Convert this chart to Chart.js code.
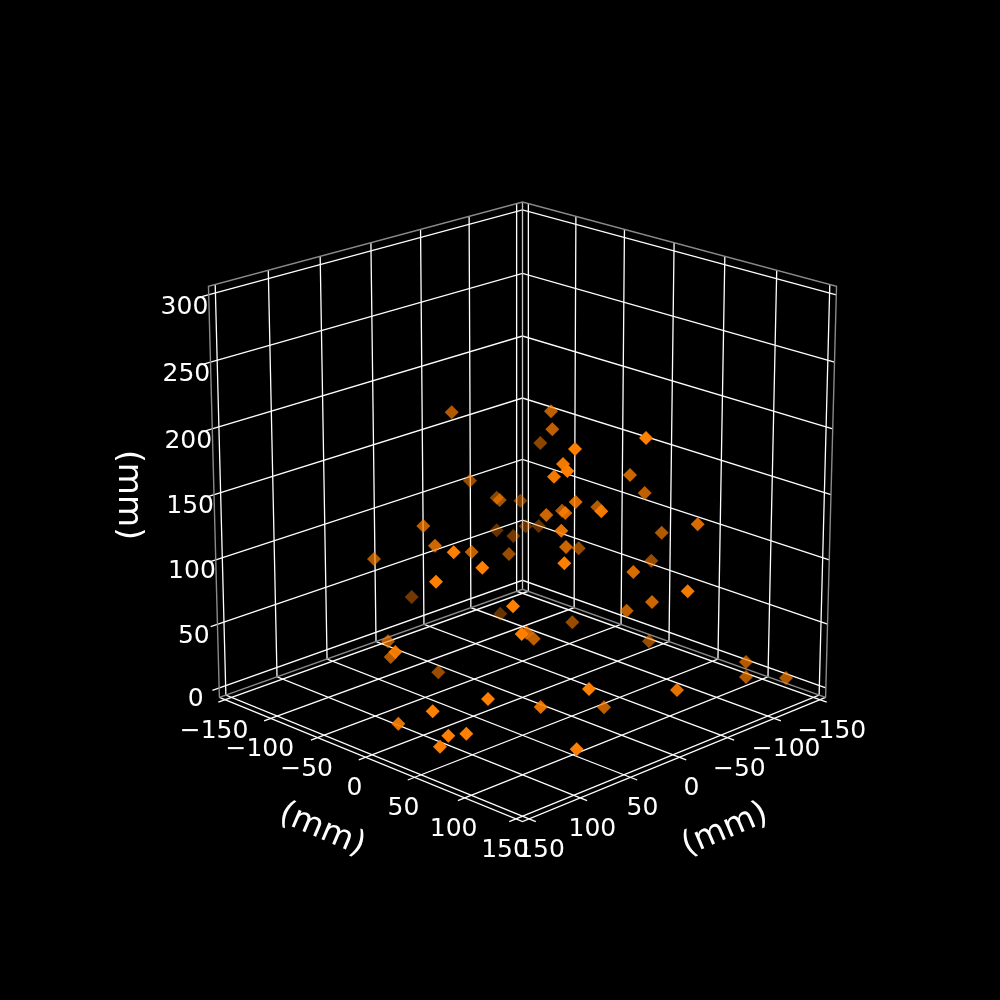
<!DOCTYPE html>
<html>
<head>
<meta charset="utf-8">
<title>3D scatter</title>
<script src="https://cdn.jsdelivr.net/npm/chart.js@4"></script>
<style>
    html, body { margin: 0; padding: 0; background: #000; }
    canvas { display: block; }
</style>
</head>
<body>
<canvas id="scatter3d" width="1000" height="1000"></canvas>
<script>
// Tick values in mm
const xyTicks = [-150, -100, -50, 0, 50, 100, 150];
const zTicks = [0, 50, 100, 150, 200, 250, 300];

// Markers (plane position and depth shade, 0 far .. 1 near)
const planeX = [451.7, 470, 496.7, 499.7, 520.3, 423.3, 546.3, 496.7, 525.7, 538.7, 513.3, 435, 453.7, 471.7, 509, 374, 482.3, 436, 411.7, 513, 500.3,
    551, 552.3, 540.3, 575, 646, 563, 567.3, 554, 630, 644.7, 575.7, 597.3, 601.3, 562, 565.3, 697.7, 561.3, 661.7, 566, 578.7, 651.3, 564.3, 633.3, 687.7, 652, 626.7, 572.3, 649, 521.7, 526.7, 533.7,
    388, 395.3, 390.7, 438.3, 488, 589, 540.7, 604, 432.7, 398.3, 466.3, 448.3, 440, 576.7, 677, 746, 746, 786];
const planeY = [412.3, 480.7, 497.7, 500, 500.7, 526, 515, 530.3, 526.3, 526, 536, 545.7, 552.3, 552, 554, 559, 567.7, 581.7, 597, 606.3, 613.7,
    411.3, 429.3, 443, 449, 438, 464, 471, 476.7, 475, 493, 502, 507, 511.3, 510.7, 513, 524.3, 530.7, 532.7, 547, 548.3, 560.7, 563.3, 572, 591.3, 602, 610.7, 622.3, 641.3, 634, 632.7, 638.7,
    641.3, 652, 657, 672.3, 699, 689, 707, 707.3, 711.3, 723.7, 733.7, 735.7, 746.7, 749.3, 690, 662, 677, 678];
const depthShade = [0.7, 0.6, 0.55, 0.65, 0.5, 0.75, 0.8, 0.4, 0.4, 0.4, 0.45, 0.8, 1, 0.75, 0.6, 0.7, 1, 1, 0.45, 1, 0.4,
    0.75, 0.75, 0.55, 1, 1, 0.95, 1, 0.95, 0.8, 0.75, 0.85, 0.7, 0.95, 0.7, 0.85, 0.85, 0.9, 0.7, 0.8, 0.6, 0.6, 1, 0.85, 0.95, 0.8, 0.75, 0.6, 0.6, 1, 0.8, 0.75,
    0.7, 0.95, 0.7, 0.6, 1, 1, 0.9, 0.75, 1, 0.9, 1, 1, 1, 1, 0.9, 0.7, 0.7, 0.7];

// View setup, same maths as a perspective 3D axes
const ELEV = 19.6 * Math.PI / 180;
const AZIM = 45 * Math.PI / 180;
const DIST = 10;
const HALF_BOX = 0.528;
const PLANE_SCALE = 4131;
const CENTER_X = 522.5;
const CENTER_Y = 495.5;
const XY_LIM = 156.25;
const Z_MIN = -7.5;
const Z_MAX = 306.25;

function project(x, y, z) {
    const px = x / XY_LIM * HALF_BOX;
    const py = y / XY_LIM * HALF_BOX;
    const pz = ((z - Z_MIN) / (Z_MAX - Z_MIN) * 2 - 1) * HALF_BOX;
    const along = px * Math.cos(AZIM) + py * Math.sin(AZIM);
    const u = -px * Math.sin(AZIM) + py * Math.cos(AZIM);
    const v = -along * Math.sin(ELEV) + pz * Math.cos(ELEV);
    const w = along * Math.cos(ELEV) + pz * Math.sin(ELEV);
    const d = DIST - w;
    return { x: CENTER_X + PLANE_SCALE * u / d, y: CENTER_Y - PLANE_SCALE * v / d };
}

function lineSet(points, color, width) {
    return {
        type: 'scatter',
        data: points,
        showLine: true,
        borderColor: color,
        borderWidth: width,
        pointRadius: 0,
        clip: false,
        order: 2
    };
}

const datasets = [];
const L = XY_LIM;
const TICK_OUT = 6.5;
const GRID = '#ffffff';
const EDGE = '#8a8a8a';

// Pane outlines
datasets.push(lineSet([project(L, -L, Z_MIN), project(L, -L, Z_MAX), project(-L, -L, Z_MAX), project(-L, L, Z_MAX), project(-L, L, Z_MIN)], EDGE, 1.4));
datasets.push(lineSet([project(L, -L, Z_MIN), project(-L, -L, Z_MIN), project(-L, L, Z_MIN)], EDGE, 1.4));
datasets.push(lineSet([project(-L, -L, Z_MIN), project(-L, -L, Z_MAX)], '#c8c8c8', 1.3));

// Axis lines along the front of the floor
datasets.push(lineSet([project(L, -L, Z_MIN), project(L, L, Z_MIN), project(-L, L, Z_MIN)], GRID, 1.3));

// Grid lines, each with its tick stub past the floor edge
xyTicks.forEach(t => {
    datasets.push(lineSet([project(t, L + TICK_OUT, Z_MIN), project(t, -L, Z_MIN), project(t, -L, Z_MAX)], GRID, 1.3));
    datasets.push(lineSet([project(L + TICK_OUT, t, Z_MIN), project(-L, t, Z_MIN), project(-L, t, Z_MAX)], GRID, 1.3));
});
zTicks.forEach(t => {
    datasets.push(lineSet([project(L + TICK_OUT, -L, t), project(-L, -L, t), project(-L, L, t)], GRID, 1.3));
});

// Markers
datasets.push({
    type: 'scatter',
    data: planeX.map((x, i) => ({ x: x, y: planeY[i] })),
    pointStyle: 'rectRot',
    pointRadius: 7,
    pointBorderWidth: 0,
    pointBackgroundColor: depthShade.map(s => `rgba(255, 127, 0, ${s})`),
    clip: false,
    order: 1
});

// Tick labels and axis titles as canvas text
const tickLabels = {
    id: 'tickLabels',
    afterDraw(chart) {
        const { ctx, scales } = chart;
        const put = (text, px, py, size, angle) => {
            ctx.save();
            ctx.translate(scales.x.getPixelForValue(px), scales.y.getPixelForValue(py));
            ctx.rotate((angle || 0) * Math.PI / 180);
            ctx.font = `${size}px "DejaVu Sans"`;
            ctx.fillStyle = '#ffffff';
            ctx.textAlign = 'center';
            ctx.textBaseline = 'middle';
            ctx.fillText(text, 0, 0);
            ctx.restore();
        };
        const label = v => String(v).replace('-', '\u2212');

        xyTicks.forEach(t => {
            const right = project(t, L, Z_MIN);
            put(label(t), right.x + 12, right.y + 31.5, 25);
            const left = project(L, t, Z_MIN);
            put(label(t), left.x - 11, left.y + 31.5, 25);
        });
        zTicks.forEach(t => {
            const p = project(L * 1.12, -L, t);
            put(label(t), p.x - 4, p.y + 5 + 2 * t / 300, 25);
        });
        put('(mm)', 322, 830, 33, 23);
        put('(mm)', 725, 830, 33, -23);
        put('(mm)', 128, 495, 33, 90);
    }
};

new Chart(document.getElementById('scatter3d').getContext('2d'), {
    data: { datasets: datasets },
    options: {
        responsive: false,
        animation: false,
        events: [],
        layout: { padding: 0, autoPadding: false },
        scales: {
            x: { type: 'linear', min: 0, max: 1000, display: false },
            y: { type: 'linear', min: 0, max: 1000, reverse: true, display: false }
        },
        plugins: { legend: { display: false }, tooltip: { enabled: false } }
    },
    plugins: [tickLabels]
});
</script>
</body>
</html>
